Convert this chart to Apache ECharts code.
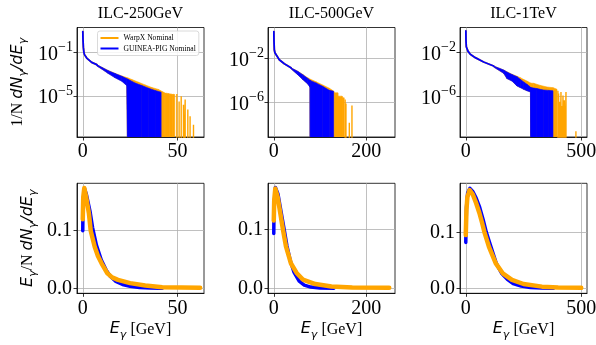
<!DOCTYPE html>
<html><head><meta charset="utf-8">
<script src="https://cdn.jsdelivr.net/npm/echarts@6/dist/echarts.min.js"></script>
<style>html,body{margin:0;padding:0;background:#fff}#c{width:596px;height:345px}</style>
</head><body><div id="c"></div>
<script>
// ---------------- data ----------------
const titles = ['ILC-250GeV', 'ILC-500GeV', 'ILC-1TeV'];
const seriesNames = ['WarpX Nominal', 'GUINEA-PIG Nominal'];
const xRanges = [[-3.05, 64.05], [-12.5, 262.5], [-25, 525]];
const xTicks = [[0, 50], [0, 200], [0, 500]];
const topYRanges = [[-8.73, 1.27], [-9.15, 0.85], [-9.73, 0.31]];   // decades of 1/N dN/dE
const topYTicks = [[-5, -1], [-6, -2], [-6, -2]];                   // exponents
const botYRanges = [[-0.0087, 0.1823], [-0.0085, 0.178], [-0.0089, 0.1875]];
const botYTicks = [0.0, 0.1];

// top row: 1/N dN/dE  (curve = [E, value]; band = [E, upper, lower], lower 0 = empty bins; spikes = [E, value])
const gp250Curve = [[0.03, 7.9], [0.12, 1.5], [0.3, 0.3], [0.6, 0.1], [0.9, 0.062], [2.1, 0.03], [4.7, 0.0123], [7.4, 7.6e-3]];
const gp250Band = [[7.4, 7.6e-3, 5.8e-3], [10.0, 4.4e-3, 3.0e-3], [13.5, 2.1e-3, 1.15e-3], [17.1, 1.15e-3, 4.7e-4],
  [20.6, 6.6e-4, 2.3e-4], [23.2, 4.0e-4, 9.3e-5], [23.9, 3.5e-4, 0], [27.6, 1.6e-4, 0], [31.2, 9.3e-5, 0],
  [34.7, 5.4e-5, 0], [38.2, 3.3e-5, 0], [41.4, 2.3e-5, 0]];
const gp250Spikes = [];
const wx250Curve = [[0.03, 7.9], [0.12, 1.5], [0.3, 0.3], [0.6, 0.1], [0.9, 0.062], [2.1, 0.03], [4.7, 0.0123], [7.4, 7.6e-3]];
const wx250Band = [[7.4, 7.6e-3, 5.8e-3], [10.0, 4.4e-3, 3.0e-3], [13.5, 2.2e-3, 1.2e-3], [17.1, 1.2e-3, 5.0e-4],
  [20.6, 7.0e-4, 2.5e-4], [23.2, 5.0e-4, 1.0e-4], [23.9, 4.6e-4, 0], [25.9, 3.3e-4, 0], [29.4, 1.9e-4, 0],
  [32.9, 1.07e-4, 0], [36.4, 6.2e-5, 0], [40.0, 4.1e-5, 0], [41.7, 2.8e-5, 0], [43.3, 2.0e-5, 0],
  [43.3, 0, 0], [43.7, 0, 0], [43.7, 1.9e-5, 0], [45.6, 1.7e-5, 0], [45.6, 0, 0], [46.0, 0, 0],
  [46.0, 1.6e-5, 0], [47.2, 1.5e-5, 0], [47.2, 0, 0], [47.6, 0, 0], [47.6, 1.5e-5, 0], [48.6, 1.4e-5, 0]];
const wx250Spikes = [[49.7, 1.6e-5], [50.9, 3.2e-6], [52.0, 1.0e-5], [53.2, 1.6e-6], [54.1, 5.0e-6],
  [55.5, 6.2e-7], [56.7, 1.5e-7], [58.5, 2.5e-8]];

const gp500Curve = [[0.2, 3.0], [0.5, 0.37], [1.15, 0.066], [2.5, 0.035], [4.8, 0.023], [12.0, 8.1e-3], [22.8, 3.5e-3], [37.2, 1.5e-3]];
const gp500Band = [[37.2, 1.5e-3, 1.2e-3], [51.7, 7.1e-4, 3.5e-4], [62.6, 3.5e-4, 1.26e-4], [73.4, 1.6e-4, 5.0e-5],
  [78.4, 1.1e-4, 2.5e-5], [79.0, 1.05e-4, 0], [91.4, 6.2e-5, 0], [105.8, 3.0e-5, 0], [120.3, 1.3e-5, 0], [129.6, 1.07e-5, 0]];
const gp500Spikes = [];
const wx500Curve = [[0.2, 3.0], [0.5, 0.37], [1.15, 0.066], [2.5, 0.035], [4.8, 0.023], [12.0, 8.1e-3], [22.8, 3.5e-3], [37.2, 1.5e-3]];
const wx500Band = [[37.2, 1.5e-3, 1.2e-3], [51.7, 7.3e-4, 3.6e-4], [62.6, 3.7e-4, 1.3e-4], [73.4, 1.8e-4, 5.2e-5],
  [78.4, 1.4e-4, 2.6e-5], [79.0, 1.35e-4, 0], [91.4, 7.9e-5, 0], [105.8, 4.0e-5, 0], [120.3, 2.0e-5, 0], [129.6, 1.1e-5, 0],
  [131.0, 7.6e-6, 0], [138.6, 7.6e-6, 0], [138.6, 3.8e-6, 0], [148.0, 3.8e-6, 0], [148.0, 2.7e-6, 0], [152.5, 2.7e-6, 0]];
const wx500Spikes = [[154.5, 1.9e-6], [156.3, 8.0e-7], [163.6, 1.4e-8], [169.3, 5.4e-7]];

const gp1000Curve = [[0.5, 0.98], [1.0, 0.12], [2.3, 0.035], [9.5, 0.014], [19.6, 7.1e-3], [41.3, 3.5e-3], [77.4, 1.4e-3], [120.7, 6.0e-4]];
const gp1000Band = [[120.7, 6.0e-4, 4.8e-4], [164, 2.6e-4, 1.3e-4], [178.4, 1.7e-4, 4.2e-5], [200, 1.0e-4, 2.5e-5],
  [221.7, 6.3e-5, 8.9e-6], [236, 3.6e-5, 6.3e-6], [250.6, 2.1e-5, 4.4e-6], [265, 1.26e-5, 3.2e-6], [280, 7.1e-6, 2.5e-6],
  [282.3, 6.3e-6, 0], [308, 5.1e-6, 0], [337, 3.8e-6, 0], [360, 3.5e-6, 0], [377.6, 3.2e-6, 0]];
const gp1000Spikes = [];
const wx1000Curve = [[0.5, 0.98], [1.0, 0.12], [2.3, 0.035], [9.5, 0.014], [19.6, 7.1e-3], [41.3, 3.5e-3], [77.4, 1.4e-3], [120.7, 6.0e-4]];
const wx1000Band = [[120.7, 6.0e-4, 4.8e-4], [164, 2.6e-4, 1.3e-4], [178.4, 1.75e-4, 4.3e-5], [200, 1.05e-4, 2.6e-5],
  [221.7, 7.0e-5, 9.0e-6], [236, 5.1e-5, 6.5e-6], [250.6, 3.5e-5, 4.5e-6], [265, 2.5e-5, 3.3e-6], [280, 1.7e-5, 2.6e-6],
  [282.3, 1.6e-5, 0], [294, 1.55e-5, 0], [323, 1.0e-5, 0], [352, 7.1e-6, 0], [378, 6.2e-6, 0], [395, 4.4e-6, 0]];
const wx1000Spikes = [[399, 3.2e-6], [402, 1.8e-6], [407, 3.2e-7], [412.3, 2.5e-6], [416, 1.3e-7], [421, 1.2e-6],
  [426.7, 4.3e-7], [434, 2.5e-6], [477, 6.3e-10]];

// bottom row: E/N dN/dE  [E, value]
const wx250E = [[0, 0.12], [0.25, 0.158], [0.8, 0.174], [1.75, 0.159], [3.25, 0.13], [4.2, 0.1], [6.3, 0.072], [8, 0.056],
  [10, 0.043], [13, 0.026], [15.5, 0.019], [18.6, 0.0147], [25, 0.009], [33, 0.005], [42, 0.002], [52, 0.0012], [62, 0.001]];
const gp250E = [[0, 0.1], [0.05, 0.12], [0.3, 0.155], [0.9, 0.173], [1.9, 0.163], [3.8, 0.134], [5.2, 0.105], [7.2, 0.075],
  [9.8, 0.049], [12.3, 0.032], [14.5, 0.021], [17.5, 0.012], [21, 0.0065], [25, 0.0035], [30, 0.0015], [36, 0.0006], [42, 0.0002]];
const wx500E = [[0, 0.115], [1, 0.15], [3.3, 0.169], [8.4, 0.155], [14.2, 0.127], [20, 0.099], [26.4, 0.071], [37.3, 0.042],
  [49.5, 0.026], [63, 0.0148], [90, 0.0072], [125, 0.003], [170, 0.0015], [250, 0.0008]];
const gp500E = [[0, 0.093], [0.3, 0.12], [1.2, 0.145], [3.5, 0.171], [9, 0.16], [15.5, 0.131], [22, 0.102], [28.5, 0.072],
  [36, 0.046], [44, 0.027], [55, 0.012], [66, 0.0055], [80, 0.002], [100, 0.0006], [130, 0.0001]];
const wx1000E = [[0, 0.095], [3, 0.14], [7, 0.163], [16.8, 0.1755], [30, 0.168], [45, 0.152], [59, 0.1345], [70, 0.118],
  [81, 0.1], [100.5, 0.074], [130, 0.0445], [160, 0.0268], [200, 0.015], [250, 0.0077], [330, 0.003], [400, 0.0015], [500, 0.0008]];
const gp1000E = [[0, 0.082], [1, 0.105], [3, 0.145], [8, 0.17], [18, 0.1785], [30, 0.173], [45, 0.161], [60, 0.145], [75, 0.123],
  [89, 0.1], [109, 0.074], [132, 0.0445], [155, 0.027], [180, 0.016], [205, 0.0085], [240, 0.004], [280, 0.0015], [330, 0.0004], [380, 0.0001]];

// ---------------- layout & style ----------------
const ORANGE = '#FFA500', BLUE = '#0000FF';
const SERIF = 'Liberation Serif';
const colLeft = [77, 268, 460], colW = 127;
const rowTop = [27.5, 183.3], rowH = [109.5, 110];
const FLOOR = -14;
const lg = v => (v > 0 ? Math.log10(v) : FLOOR);

const nameRich = {
  r: {fontFamily: SERIF, fontSize: 16, lineHeight: 22, color: '#000'},
  i: {fontFamily: 'DejaVu Sans', fontStyle: 'italic', fontSize: 16, lineHeight: 22, color: '#000'},
  sub: {fontFamily: 'DejaVu Sans', fontStyle: 'italic', fontSize: 11, lineHeight: 22, verticalAlign: 'bottom', color: '#000'}
};
const supRich = {
  b: {fontFamily: SERIF, fontSize: 20, lineHeight: 24, verticalAlign: 'bottom', color: '#000'},
  s: {fontFamily: SERIF, fontSize: 14, lineHeight: 24, verticalAlign: 'top', color: '#000'}
};

const grids = [], xAxes = [], yAxes = [];
for (let r = 0; r < 2; r++) for (let c = 0; c < 3; c++) {
  const gi = r * 3 + c;
  grids.push({left: colLeft[c], top: rowTop[r], width: colW, height: rowH[r], show: true,
    borderColor: '#000', borderWidth: 0.8, backgroundColor: 'transparent', containLabel: false, outerBoundsMode: 'none'});
  xAxes.push({
    type: 'value', gridIndex: gi, min: xRanges[c][0], max: xRanges[c][1],
    axisLine: {show: true, onZero: false, lineStyle: {color: '#000', width: 0.8}},
    axisTick: {show: true, inside: false, length: 3.5, customValues: xTicks[c], lineStyle: {color: '#000', width: 0.8}},
    axisLabel: {show: true, customValues: xTicks[c], margin: 5, color: '#000', fontFamily: SERIF, fontSize: 20,
      formatter: v => String(Math.round(v))},
    splitLine: {show: true, customValues: xTicks[c], lineStyle: {color: '#b0b0b0', width: 0.8}},
    name: r === 1 ? '{i|E}{sub|γ}{r| [GeV]}' : '', nameLocation: 'middle', nameGap: 25, nameMoveOverlap: false,
    nameTextStyle: {rich: nameRich}
  });
  const isTop = r === 0;
  const yt = isTop ? topYTicks[c] : botYTicks;
  const yr = isTop ? topYRanges[c] : botYRanges[c];
  yAxes.push({
    type: 'value', gridIndex: gi, min: yr[0], max: yr[1],
    axisLine: {show: true, onZero: false, lineStyle: {color: '#000', width: 0.8}},
    axisTick: {show: true, inside: false, length: 3.5, customValues: yt, lineStyle: {color: '#000', width: 0.8}},
    axisLabel: isTop
      ? {show: true, customValues: yt, margin: 4, formatter: v => '{b|10}{s|−' + Math.round(-v) + '}', rich: supRich}
      : {show: true, customValues: yt, margin: 5, color: '#000', fontFamily: SERIF, fontSize: 20, formatter: v => v.toFixed(1)},
    splitLine: {show: true, customValues: yt, lineStyle: {color: '#b0b0b0', width: 0.8}},
    name: c === 0 ? (isTop ? '{r|1/N }{i|dN}{sub|γ}{i|/dE}{sub|γ}' : '{i|E}{sub|γ}{r|/N }{i|dN}{sub|γ}{i|/dE}{sub|γ}') : '',
    nameLocation: 'middle', nameRotate: 90, nameGap: isTop ? 48 : 38, nameMoveOverlap: false,
    nameTextStyle: {rich: nameRich}
  });
}

function bandSeries(name, color, data, gi, z) {
  return {
    type: 'custom', name, xAxisIndex: gi, yAxisIndex: gi, z, clip: true, silent: true,
    encode: {x: 0, y: [1, 2]},
    data: data.map(d => [d[0], lg(d[1]), lg(d[2])]),
    renderItem: (params, api) => {
      const i = params.dataIndexInside;
      if (i >= params.dataInsideLength - 1) return null;
      const a = api.coord([api.value(0, i), api.value(1, i)]);
      const b = api.coord([api.value(0, i + 1), api.value(1, i + 1)]);
      const cc = api.coord([api.value(0, i + 1), api.value(2, i + 1)]);
      const d = api.coord([api.value(0, i), api.value(2, i)]);
      return {type: 'polygon', z2: 0, shape: {points: [a, b, cc, d]}, style: {fill: color, stroke: color, lineWidth: 0.6}};
    }
  };
}
function curveSeries(name, color, data, gi, z, width, logy) {
  return {
    type: 'line', name, xAxisIndex: gi, yAxisIndex: gi, z, clip: true, silent: true,
    symbol: 'none', showSymbol: false,
    data: data.map(d => [d[0], logy ? lg(d[1]) : d[1]]),
    lineStyle: {color, width, cap: 'round', join: 'round'}, itemStyle: {color}
  };
}
function spikeSeries(name, color, data, gi, z) {
  const pts = [];
  data.forEach(d => { pts.push([d[0], FLOOR], [d[0], lg(d[1])], [d[0], FLOOR]); });
  return {
    type: 'line', name, xAxisIndex: gi, yAxisIndex: gi, z, clip: true, silent: true,
    symbol: 'none', showSymbol: false, data: pts,
    lineStyle: {color, width: 1.4}, itemStyle: {color}
  };
}

const topSets = [
  {wc: wx250Curve, wb: wx250Band, ws: wx250Spikes, gc: gp250Curve, gb: gp250Band, gs: gp250Spikes},
  {wc: wx500Curve, wb: wx500Band, ws: wx500Spikes, gc: gp500Curve, gb: gp500Band, gs: gp500Spikes},
  {wc: wx1000Curve, wb: wx1000Band, ws: wx1000Spikes, gc: gp1000Curve, gb: gp1000Band, gs: gp1000Spikes}
];
const botSets = [[wx250E, gp250E], [wx500E, gp500E], [wx1000E, gp1000E]];

const series = [];
topSets.forEach((s, c) => {
  series.push(bandSeries(seriesNames[0], ORANGE, s.wb, c, 2));
  series.push(curveSeries(seriesNames[0], ORANGE, s.wc, c, 2, 1.8, true));
  if (s.ws.length) series.push(spikeSeries(seriesNames[0], ORANGE, s.ws, c, 2));
  series.push(bandSeries(seriesNames[1], BLUE, s.gb, c, 4));
  series.push(curveSeries(seriesNames[1], BLUE, s.gc, c, 4, 1.8, true));
  if (s.gs.length) series.push(spikeSeries(seriesNames[1], BLUE, s.gs, c, 4));
});
botSets.forEach((s, c) => {
  series.push(curveSeries(seriesNames[1], BLUE, s[1], 3 + c, 2, 3.5, false));
  series.push(curveSeries(seriesNames[0], ORANGE, s[0], 3 + c, 3, 4.5, false));
});

const chart = echarts.init(document.getElementById('c'), null, {renderer: 'canvas', width: 596, height: 345});
chart.setOption({
  animation: false,
  backgroundColor: '#fff',
  grid: grids, xAxis: xAxes, yAxis: yAxes, series,
  legend: {
    left: 97.5, top: 31, orient: 'vertical', itemWidth: 18, itemHeight: 2, itemGap: 2.5,
    padding: [3, 3, 3, 3], borderColor: '#d0d0d0', borderWidth: 0.8, borderRadius: 2.5,
    backgroundColor: 'rgba(255,255,255,0.85)', selectedMode: false, z: 10,
    textStyle: {fontFamily: SERIF, fontSize: 7.6, color: '#000'},
    data: [{name: seriesNames[0], icon: 'rect', itemStyle: {color: ORANGE}},
           {name: seriesNames[1], icon: 'rect', itemStyle: {color: BLUE}}]
  },
  graphic: titles.map((t, c) => ({
    type: 'text', x: colLeft[c] + colW / 2, y: 13.5,
    style: {text: t, fill: '#000', font: '16px "Liberation Serif"', align: 'center', verticalAlign: 'middle',
      textAlign: 'center', textVerticalAlign: 'middle'}
  }))
});
</script></body></html>
